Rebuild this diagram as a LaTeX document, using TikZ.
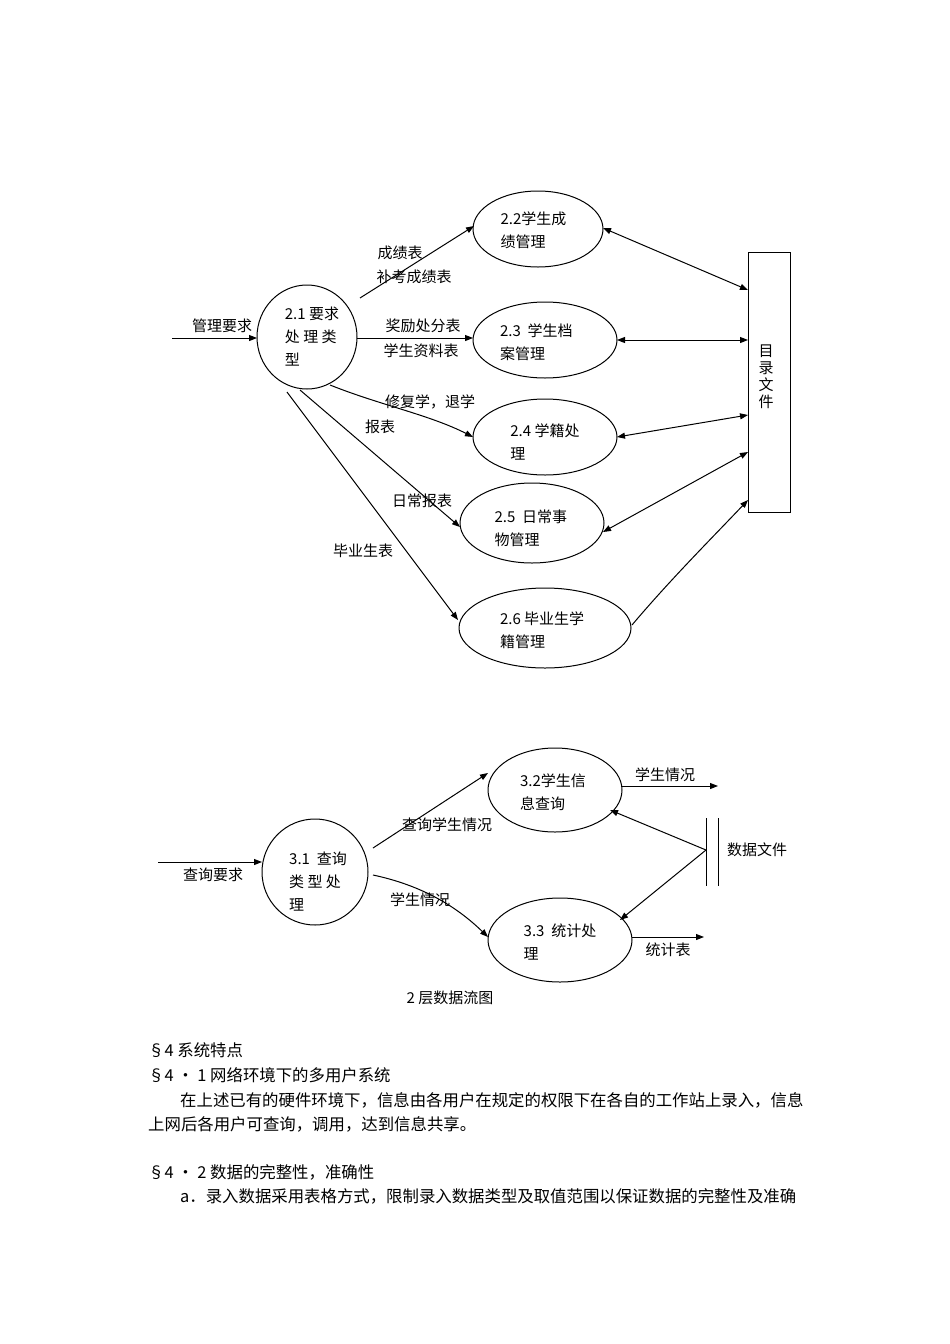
\documentclass[tikz,border=0pt]{standalone}
\usepackage{fontspec}
\setmainfont{Liberation Serif}
\newfontfamily\cjk{Noto Sans CJK SC}
\usetikzlibrary{shapes.geometric,arrows.meta}
\begin{document}
\begin{tikzpicture}[x=1pt,y=-1pt,
  arr/.style={-{Triangle[length=8pt,width=6pt]},line width=1pt},
  darr/.style={{Triangle[length=8pt,width=6pt]}-{Triangle[length=8pt,width=6pt]},line width=1pt},
  lab/.style={font=\cjk\fontsize{15}{17}\selectfont,inner sep=0},
  txt/.style={font=\cjk\fontsize{16.4}{18}\selectfont,inner sep=0,anchor=west},
  inl/.style={font=\cjk\fontsize{15}{23}\selectfont,align=left}]
\useasboundingbox (0,0) rectangle (950,1344);
% top diagram
\draw[line width=1pt] (307,337) ellipse (50 and 52);
\node[inl] (p21) at (312,337) {2.1 要求\\处 理 类\\型\phantom{理 类}};
\draw[line width=1pt] (538,229) ellipse (65 and 38);
\node[inl] (p22) at (538,230) {2.2学生成\\绩管理\phantom{学生}};
\draw[line width=1pt] (545,340) ellipse (72 and 38);
\node[inl] (p23) at (545,342) {2.3 \ 学生档\\案管理\phantom{学生档}};
\draw[line width=1pt] (545,437) ellipse (72 and 38);
\node[inl] (p24) at (545,442) {2.4 学籍处\\理\phantom{学籍处}};
\draw[line width=1pt] (532,523) ellipse (72 and 40);
\node[inl] (p25) at (532,528) {2.5 \ 日常事\\物管理\phantom{日常}};
\draw[line width=1pt] (545,628) ellipse (86 and 40);
\node[inl] (p26) at (545,630) {2.6 毕业生学\\籍管理\phantom{毕业生}};
\node[draw,line width=1pt,minimum width=42pt,minimum height=260pt,inner sep=0] (file) at (769,382) {};
\node[lab,align=center] at (766,377) {目\\录\\文\\件};
\coordinate (in1) at (172,338);
\coordinate (a21) at (257,338);
\draw[arr] (in1) -- (a21);
\node[lab] at (222,326) {管理要求};
\coordinate (s1) at (360,298); \coordinate (e1) at (474,226);
\draw[arr] (s1) -- (e1);
\node[lab] at (400,253) {成绩表};
\node[lab] at (414,277) {补考成绩表};
\coordinate (s2) at (357,338); \coordinate (e2) at (473,338);
\draw[arr] (s2) -- (e2);
\node[lab] at (423,326) {奖励处分表};
\node[lab] at (421,351) {学生资料表};
\coordinate (s3) at (330,385); \coordinate (e3) at (473,437);
\draw[arr] (s3) .. controls (380,405) and (430,415) .. (e3);
\node[lab] at (430,402) {修复学，退学};
\node[lab] at (380,427) {报表};
\coordinate (s4) at (300,390); \coordinate (e4) at (460,527);
\draw[arr] (s4) -- (e4);
\node[lab] at (422,501) {日常报表};
\coordinate (s5) at (287,392); \coordinate (e5) at (458,620);
\draw[arr] (s5) -- (e5);
\node[lab] at (363,551) {毕业生表};
\coordinate (f2) at (603,228); \coordinate (g2) at (748,290);
\draw[darr] (f2) -- (g2);
\coordinate (f3) at (617,340); \coordinate (g3) at (748,340);
\draw[darr] (f3) -- (g3);
\coordinate (f4) at (617,437); \coordinate (g4) at (748,415);
\draw[darr] (f4) -- (g4);
\coordinate (f5) at (603,532); \coordinate (g5) at (748,452);
\draw[darr] (f5) -- (g5);
\coordinate (f6) at (632,625); \coordinate (g6) at (748,500);
\draw[arr] (f6) .. controls (670,580) and (710,540) .. (g6);
% bottom diagram
\draw[line width=1pt] (315,872) ellipse (53 and 53);
\node[inl] (p31) at (318,882) {3.1 \ 查询\\类 型 处\\理\phantom{型 处}};
\draw[line width=1pt] (555,790) ellipse (67 and 42);
\node[inl] (p32) at (553,792) {3.2学生信\\息查询\phantom{学}};
\draw[line width=1pt] (560,940) ellipse (72 and 42);
\node[inl] (p33) at (560,942) {3.3 \ 统计处\\理\phantom{统计处}};
\coordinate (in2) at (158,862); \coordinate (a31) at (262,862);
\draw[arr] (in2) -- (a31);
\node[lab] at (213,875) {查询要求};
\coordinate (s6) at (373,848); \coordinate (e6) at (488,773);
\draw[arr] (s6) -- (e6);
\node[lab] at (447,825) {查询学生情况};
\coordinate (s7) at (373,875); \coordinate (e7) at (488,937);
\draw[arr] (s7) .. controls (420,885) and (455,905) .. (e7);
\node[lab] at (420,900) {学生情况};
\coordinate (o1) at (622,786); \coordinate (o1e) at (718,786);
\draw[arr] (o1) -- (o1e);
\node[lab] at (665,775) {学生情况};
\coordinate (o2) at (632,937); \coordinate (o2e) at (704,937);
\draw[arr] (o2) -- (o2e);
\node[lab] at (668,950) {统计表};
\draw[line width=1pt] (706,818) -- (706,886);
\draw[line width=1pt] (718,818) -- (718,886);
\coordinate (ds) at (706,850);
\node[lab] at (757,850) {数据文件};
\coordinate (t32) at (610,810); \coordinate (t33) at (620,920);
\draw[arr] (ds) -- (t32);
\draw[arr] (ds) -- (t33);
\node[lab] at (450,998) {2 层数据流图};
% text
\node[txt] at (148,1050) {§4 系统特点};
\node[txt] at (148,1075) {§4 • 1 网络环境下的多用户系统};
\node[txt] at (180,1100) {在上述已有的硬件环境下，信息由各用户在规定的权限下在各自的工作站上录入，信息};
\node[txt] at (148,1124) {上网后各用户可查询，调用，达到信息共享。};
\node[txt] at (148,1172) {§4 • 2 数据的完整性，准确性};
\node[txt] at (180,1196) {a．录入数据采用表格方式，限制录入数据类型及取值范围以保证数据的完整性及准确};
\end{tikzpicture}
\end{document}
